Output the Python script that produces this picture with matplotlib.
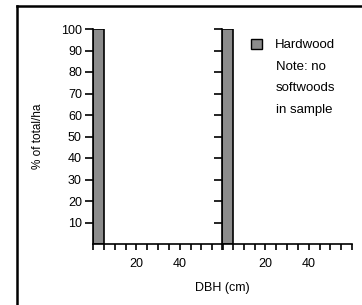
import matplotlib
matplotlib.use("Agg")
import matplotlib.pyplot as plt
from matplotlib.patches import Patch
from matplotlib.lines import Line2D

plt.rcParams['font.family'] = ['Liberation Sans', 'DejaVu Sans']

# Data: DBH classes (cm, left edges, 5-cm classes) and % of total/ha
class_edges = [0]
class_width = 5
panel1_hardwood = [100]
panel2_hardwood = [100]
x_tick_labels = [20, 40]
y_ticks = [10, 20, 30, 40, 50, 60, 70, 80, 90, 100]
note_lines = ['Note: no', 'softwoods', 'in sample']

bar_color = '#8c8c8c'

fig = plt.figure(figsize=(3.62, 3.05), dpi=100)
ax1 = fig.add_axes([93/362, 1-244/305, 130/362, 215/305])
ax2 = fig.add_axes([222/362, 1-244/305, 130/362, 215/305])

for ax, vals in ((ax1, panel1_hardwood), (ax2, panel2_hardwood)):
    ax.bar(class_edges, vals, width=class_width, align='edge',
           color=bar_color, edgecolor='black', linewidth=1.2, label='Hardwood')
    ax.set_xlim(0, 60)
    ax.set_ylim(0, 100)
    ax.spines['top'].set_visible(False)
    ax.spines['right'].set_visible(False)
    ax.spines['left'].set_linewidth(1.2)
    ax.spines['bottom'].set_linewidth(1.2)
    ax.set_xticks(list(range(0, 61, 5)))
    ax.set_xticklabels([str(v) if v in x_tick_labels else '' for v in range(0, 61, 5)])
    ax.set_yticks(y_ticks)
    ax.tick_params(axis='x', direction='out', length=4, width=1.2, pad=6,
                   labelsize=9, colors='black')
    ax.tick_params(axis='y', direction='out', length=6, width=1.2, pad=2,
                   labelsize=9, colors='black')

ax2.set_yticklabels([])
ax1.set_ylabel('% of total/ha', fontsize=8.5, labelpad=12)
fig.text(222/362, 1-288/305, 'DBH (cm)', fontsize=9, ha='center', va='center')

leg = fig.legend(handles=[Patch(facecolor=bar_color, edgecolor='black', linewidth=1)],
                 labels=['Hardwood'], loc='center left',
                 bbox_to_anchor=(251/362, 1-45/305), frameon=False,
                 fontsize=9.5, handlelength=0.8, handleheight=0.8,
                 handletextpad=1.0, borderpad=0, borderaxespad=0)
for i, line in enumerate(note_lines):
    fig.text(276/362, 1-(67 + 21.5*i)/305, line, fontsize=9.5,
             ha='left', va='center')

# figure frame (left and top edges)
fig.add_artist(Line2D([17/362, 17/362], [0, 1-6/305], transform=fig.transFigure,
                      color='black', linewidth=1.8))
fig.add_artist(Line2D([17/362, 1], [1-6/305, 1-6/305], transform=fig.transFigure,
                      color='black', linewidth=1.8))

fig.savefig('out.png', dpi=100)
